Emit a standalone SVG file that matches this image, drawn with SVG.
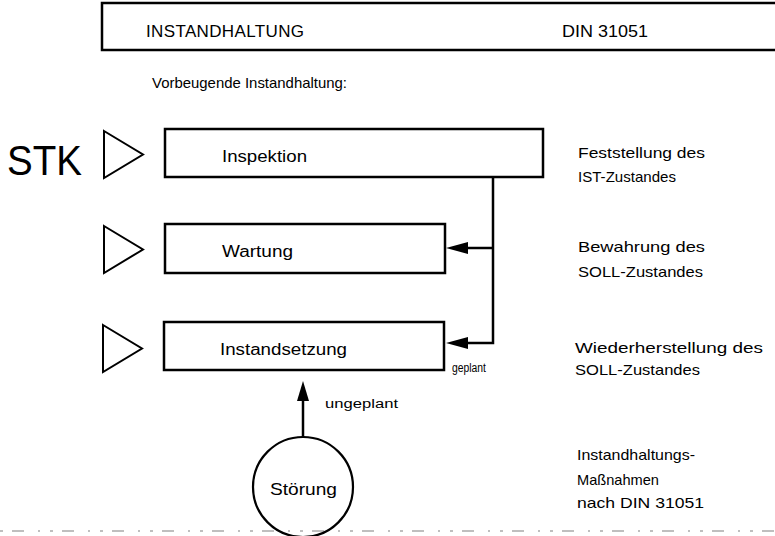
<svg xmlns="http://www.w3.org/2000/svg" width="775" height="536" viewBox="0 0 775 536">
<style>
text{font-family:"Liberation Sans","DejaVu Sans",sans-serif;fill:#000}
.box{fill:#fff;stroke:#000;stroke-width:2.5}
.tri{fill:none;stroke:#000;stroke-width:2;stroke-linejoin:miter}
.ln{fill:none;stroke:#000;stroke-width:2.5}
.lbl{font-size:16px}
.side{font-size:15px}
.small{font-size:12px}
</style>
<rect width="775" height="536" fill="#fff"/>
<g id="header">
<path class="ln" d="M775,3 H102 V50 H775"/>
<text x="146" y="37" font-size="17" textLength="158" lengthAdjust="spacing">INSTANDHALTUNG</text>
<text x="562" y="37" font-size="17" textLength="86" lengthAdjust="spacingAndGlyphs">DIN 31051</text>
</g>
<text x="152" y="88" font-size="15" textLength="195" lengthAdjust="spacingAndGlyphs">Vorbeugende Instandhaltung:</text>
<text x="7" y="175" font-size="43" textLength="75" lengthAdjust="spacingAndGlyphs">STK</text>
<g id="tri1"><polygon class="tri" points="104,131 143,154.5 104,178"/></g>
<g id="tri2"><polygon class="tri" points="104,226 143,249.5 104,273"/></g>
<g id="tri3"><polygon class="tri" points="103,325 142,348.5 103,372"/></g>
<g id="inspektion">
<rect class="box" x="165" y="129" width="378" height="48"/>
<text class="lbl" x="222" y="162" textLength="85" lengthAdjust="spacingAndGlyphs">Inspektion</text>
</g>
<g id="wartung">
<rect class="box" x="165" y="224" width="280" height="49"/>
<text class="lbl" x="222" y="257" textLength="71" lengthAdjust="spacingAndGlyphs">Wartung</text>
</g>
<g id="instandsetzung">
<rect class="box" x="164" y="322" width="280" height="48"/>
<text class="lbl" x="220" y="355" textLength="127" lengthAdjust="spacingAndGlyphs">Instandsetzung</text>
</g>
<g id="stoerung">
<circle cx="303" cy="487" r="50" fill="#fff" stroke="#000" stroke-width="2.2"/>
<text x="270" y="495" font-size="17" textLength="67" lengthAdjust="spacingAndGlyphs">Störung</text>
</g>
<g id="connectors">
<path class="ln" d="M493,177 V343 H466"/>
<path class="ln" d="M493,248 H466"/>
<polygon points="446,248 468,242 468,254" fill="#000"/>
<polygon points="446,343 468,337 468,349" fill="#000"/>
<text class="small" x="452" y="372" textLength="34" lengthAdjust="spacingAndGlyphs">geplant</text>
<path class="ln" d="M303,437 V398"/>
<polygon points="303,381 297,401 309,401" fill="#000"/>
<text class="small" x="325" y="408" textLength="73" lengthAdjust="spacingAndGlyphs">ungeplant</text>
</g>
<g id="notes">
<text class="side" x="578" y="158" textLength="127" lengthAdjust="spacingAndGlyphs">Feststellung des</text>
<text class="side" x="578" y="182" textLength="98" lengthAdjust="spacingAndGlyphs">IST-Zustandes</text>
<text class="side" x="578" y="252" textLength="127" lengthAdjust="spacingAndGlyphs">Bewahrung des</text>
<text class="side" x="578" y="277" textLength="125" lengthAdjust="spacingAndGlyphs">SOLL-Zustandes</text>
<text class="side" x="575" y="353" textLength="188" lengthAdjust="spacingAndGlyphs">Wiederherstellung des</text>
<text class="side" x="575" y="375" textLength="125" lengthAdjust="spacingAndGlyphs">SOLL-Zustandes</text>
<text class="side" x="577" y="460" textLength="118" lengthAdjust="spacingAndGlyphs">Instandhaltungs-</text>
<text class="side" x="577" y="485" textLength="82" lengthAdjust="spacingAndGlyphs">Maßnahmen</text>
<text class="side" x="577" y="508" textLength="127" lengthAdjust="spacingAndGlyphs">nach DIN 31051</text>
</g>
<path d="M0,531 H775" stroke="#000" stroke-width="1" stroke-dasharray="3 9 12 14 2 10" opacity="0.5" fill="none"/>
</svg>
